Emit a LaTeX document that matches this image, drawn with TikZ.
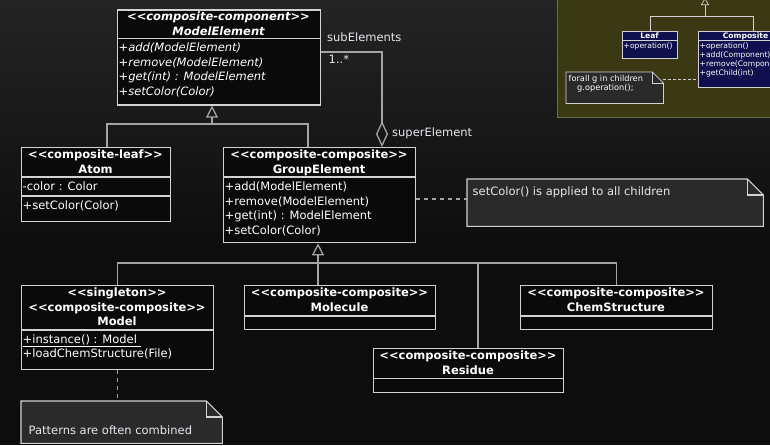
\documentclass[tikz,border=0pt]{standalone}
\usepackage{fontspec}
\setmainfont{DejaVu Sans}[Ligatures=TeXOff]
\usetikzlibrary{arrows.meta}

\definecolor{bgdark}{HTML}{0D0D0D}
\definecolor{bgtop}{HTML}{242424}
\definecolor{boxfill}{HTML}{0A0A0A}
\definecolor{boxline}{HTML}{D2D2D2}
\definecolor{linkline}{HTML}{A4A4A4}
\definecolor{notefill}{HTML}{2A2A2A}
\definecolor{labeltext}{HTML}{E4E8EE}
\definecolor{insetfill}{HTML}{3B3914}
\definecolor{insetline}{HTML}{6E6C4E}
\definecolor{insetnavy}{HTML}{10104E}

\tikzset{
	classbox/.style={draw=boxline, fill=boxfill, line width=1.3pt, inner sep=0pt, anchor=north west},
	bar/.style={draw=boxline, line width=1.3pt},
	headtext/.style={text=white, inner sep=0pt, anchor=base, font=\bfseries\fontsize{11.5}{14}\selectfont},
	abstracthead/.style={headtext, font=\bfseries\itshape\fontsize{11.5}{14}\selectfont},
	membertext/.style={text=white, inner sep=0pt, anchor=base west, font=\fontsize{11.5}{14}\selectfont},
	abstractmember/.style={membertext, font=\itshape\fontsize{11.5}{14}\selectfont},
	link/.style={draw=linkline, line width=1.3pt},
	inherit/.style={link, -{Triangle[open, length=12pt, width=12pt]}},
	notelink/.style={draw=linkline, line width=1.3pt, dash pattern=on 4pt off 4pt},
	notearea/.style={inner sep=0pt, anchor=north west},
	noteframe/.style={fill=notefill, draw=boxline, line width=1.1pt},
	notetext/.style={text=labeltext, inner sep=0pt, anchor=base west, font=\fontsize{11.5}{14}\selectfont},
	insetbox/.style={draw=boxline, fill=insetnavy, line width=0.7pt, inner sep=0pt, anchor=north west},
	insetbar/.style={draw=boxline, line width=0.7pt},
	insethead/.style={text=white, inner sep=0pt, anchor=base, font=\bfseries\fontsize{7.6}{9}\selectfont},
	insetmember/.style={text=white, inner sep=0pt, anchor=base west, font=\fontsize{7.6}{9}\selectfont},
	insetnote/.style={text=white, inner sep=0pt, anchor=base west, font=\fontsize{8.2}{9}\selectfont}
}

\begin{document}
\begin{tikzpicture}[x=1pt, y=-1pt]
	\useasboundingbox (0,0) rectangle (770,445);
	\fill[bgdark] (0,0) rectangle (770,445);
	\shade[top color=bgtop, bottom color=bgdark] (0,0) rectangle (770,250);
	
	% small picture of the pattern, top right
	\begin{scope}
		\clip (0,0) rectangle (770,445);
		\filldraw[fill=insetfill, draw=insetline, line width=1pt] (557,-3) rectangle (776,117);
		
		\node[insetbox, minimum width=55pt, minimum height=27pt] (leaf) at (622,31) {};
		\draw[insetbar] (leaf.north west) ++(0,9) -- ++(55,0);
		\node[insethead] (leaf-name) at (649.5,38) {Leaf};
		\node[insetmember] (leaf-op) at (623.5,48.5) {+operation()};
		
		\node[insetbox, minimum width=102pt, minimum height=56pt] (composite) at (698,31) {};
		\draw[insetbar] (composite.north west) ++(0,9) -- ++(102,0);
		\node[insethead] (composite-name) at (745.5,38) {Composite};
		\node[insetmember] (composite-op1) at (699.5,48) {+operation()};
		\node[insetmember] (composite-op2) at (699.5,57.3) {+add(Component)};
		\node[insetmember] (composite-op3) at (699.5,66.6) {+remove(Component)};
		\node[insetmember] (composite-op4) at (699.5,75.9) {+getChild(int)};
		
		\coordinate (component) at (705,-2);
		\coordinate (insetjoin) at (705,16);
		\coordinate (compositebranch) at (753,16);
		\draw[insetbar] (leaf.north) |- (insetjoin);
		\draw[insetbar] (composite.north -| compositebranch) -- (compositebranch) -- (insetjoin);
		\draw[insetbar, -{Triangle[open, length=7pt, width=8pt]}] (insetjoin) -- (component);
		
		\node[notearea, minimum width=97pt, minimum height=31pt] (childrenloop) at (566,72) {};
		\filldraw[fill=notefill, draw=boxline, line width=0.7pt] (childrenloop.north west) -- ([xshift=-11pt]childrenloop.north east) -- ([yshift=-11pt]childrenloop.north east) -- (childrenloop.south east) -- (childrenloop.south west) -- cycle;
		\draw[draw=boxline, line width=0.7pt] ([xshift=-11pt]childrenloop.north east) -- ([xshift=-11pt, yshift=-11pt]childrenloop.north east) -- ([yshift=-11pt]childrenloop.north east);
		\node[insetnote] (childrenloop-1) at (568.5,81) {forall g in children};
		\node[insetnote] (childrenloop-2) at (577,90.5) {g.operation();};
		\coordinate (loopline) at (0,79.3);
		\draw[insetbar, dash pattern=on 2.5pt off 2.5pt] (childrenloop.east |- loopline) -- (composite.west |- loopline);
	\end{scope}
	
	% ModelElement
	\node[classbox, minimum width=203pt, minimum height=95pt] (modelelement) at (117,9.3) {};
	\draw[bar] (117,38.7) -- (320,38.7);
	\node[abstracthead] (modelelement-stereo) at (218.5,20.8) {<<composite-component>>};
	\node[abstracthead] (modelelement-name) at (218.5,35.4) {ModelElement};
	\node[abstractmember] (modelelement-op1) at (118.5,51.6) {+add(ModelElement)};
	\node[abstractmember] (modelelement-op2) at (118.5,66.2) {+remove(ModelElement)};
	\node[abstractmember] (modelelement-op3) at (118.5,80.8) {+get(int) : ModelElement};
	\node[abstractmember] (modelelement-op4) at (118.5,95.4) {+setColor(Color)};
	
	% Atom
	\node[classbox, minimum width=149pt, minimum height=74pt] (atom) at (21,147) {};
	\draw[bar] (21,177) -- (170,177);
	\draw[bar] (21,196) -- (170,196);
	\node[headtext] (atom-stereo) at (95.5,158.5) {<<composite-leaf>>};
	\node[headtext] (atom-name) at (95.5,173.1) {Atom};
	\node[membertext] (atom-attr) at (22.5,190.5) {-color : Color};
	\node[membertext] (atom-op) at (22.5,209.5) {+setColor(Color)};
	
	% GroupElement
	\node[classbox, minimum width=192pt, minimum height=95pt] (groupelement) at (223,147) {};
	\draw[bar] (223,177) -- (415,177);
	\node[headtext] (groupelement-stereo) at (319,158.5) {<<composite-composite>>};
	\node[headtext] (groupelement-name) at (319,173.1) {GroupElement};
	\node[membertext] (groupelement-op1) at (224.5,190.5) {+add(ModelElement)};
	\node[membertext] (groupelement-op2) at (224.5,205.1) {+remove(ModelElement)};
	\node[membertext] (groupelement-op3) at (224.5,219.7) {+get(int) : ModelElement};
	\node[membertext] (groupelement-op4) at (224.5,234.3) {+setColor(Color)};
	
	% Model
	\node[classbox, minimum width=192pt, minimum height=84pt] (model) at (21,285) {};
	\draw[bar] (21,330) -- (213,330);
	\node[headtext] (model-stereo1) at (117,296.5) {<<singleton>>};
	\node[headtext] (model-stereo2) at (117,311.1) {<<composite-composite>>};
	\node[headtext] (model-name) at (117,325.7) {Model};
	\node[membertext] (model-op1) at (22.5,343) {\underline{+instance() : Model\ }};
	\node[membertext] (model-op2) at (22.5,357.6) {+loadChemStructure(File)};
	
	% Molecule
	\node[classbox, minimum width=191pt, minimum height=44pt] (molecule) at (244,285) {};
	\draw[bar] (244,316) -- (435,316);
	\node[headtext] (molecule-stereo) at (339.5,296.5) {<<composite-composite>>};
	\node[headtext] (molecule-name) at (339.5,311.1) {Molecule};
	
	% ChemStructure
	\node[classbox, minimum width=192pt, minimum height=44pt] (chemstructure) at (520,285) {};
	\draw[bar] (520,316) -- (712,316);
	\node[headtext] (chemstructure-stereo) at (616,296.5) {<<composite-composite>>};
	\node[headtext] (chemstructure-name) at (616,311.1) {ChemStructure};
	
	% Residue
	\node[classbox, minimum width=190pt, minimum height=43.5pt] (residue) at (373,348) {};
	\draw[bar] (373,378.5) -- (563,378.5);
	\node[headtext] (residue-stereo) at (468,359.5) {<<composite-composite>>};
	\node[headtext] (residue-name) at (468,374.1) {Residue};
	
	% notes
	\node[notearea, minimum width=296pt, minimum height=47pt] (childrennote) at (467,179) {};
	\filldraw[noteframe] (childrennote.north west) -- ([xshift=-16pt]childrennote.north east) -- ([yshift=-16pt]childrennote.north east) -- (childrennote.south east) -- (childrennote.south west) -- cycle;
	\draw[noteframe, fill=none] ([xshift=-16pt]childrennote.north east) -- ([xshift=-16pt, yshift=-16pt]childrennote.north east) -- ([yshift=-16pt]childrennote.north east);
	\node[notetext] (childrennote-text) at (472.5,195.3) {setColor() is applied to all children};
	
	\node[notearea, minimum width=201pt, minimum height=42pt] (patternsnote) at (21,401) {};
	\filldraw[noteframe] (patternsnote.north west) -- ([xshift=-16pt]patternsnote.north east) -- ([yshift=-16pt]patternsnote.north east) -- (patternsnote.south east) -- (patternsnote.south west) -- cycle;
	\draw[noteframe, fill=none] ([xshift=-16pt]patternsnote.north east) -- ([xshift=-16pt, yshift=-16pt]patternsnote.north east) -- ([yshift=-16pt]patternsnote.north east);
	\node[notetext] (patternsnote-text) at (28.5,434) {Patterns are often combined};
	
	% inheritance
	\coordinate (topjoin) at (212,124);
	\coordinate (atombranch) at (107,124);
	\coordinate (groupbranch) at (308,124);
	\draw[link] (atom.north -| atombranch) -- (atombranch) -- (groupbranch) -- (groupelement.north -| groupbranch);
	\draw[inherit] (topjoin) -- (modelelement.south -| topjoin);
	
	\coordinate (bottomjoin) at (318,263);
	\coordinate (residuebranch) at (478,263);
	\draw[link] (model.north) |- (bottomjoin);
	\draw[link] (chemstructure.north) |- (bottomjoin);
	\draw[link] (residue.north -| residuebranch) -- (residuebranch);
	\draw[inherit] (molecule.north -| bottomjoin) -- (groupelement.south -| bottomjoin);
	
	% aggregation
	\coordinate (aggtop) at (382,52);
	\draw[link, {Diamond[open, length=26pt, width=12pt]}-] (groupelement.north -| aggtop) -- (aggtop) -- (modelelement.east |- aggtop);
	\node[notetext] (sub-role) at (327,41.7) {subElements};
	\node[notetext] (sub-mult) at (328.5,63.3) {1..*};
	\node[notetext] (super-role) at (392,136) {superElement};
	
	% dashed note links
	\coordinate (childrenline) at (0,199);
	\draw[notelink] (groupelement.east |- childrenline) -- (childrennote.west |- childrenline);
	\draw[notelink] (model.south) -- (patternsnote.north -| model.south);
\end{tikzpicture}
\end{document}
